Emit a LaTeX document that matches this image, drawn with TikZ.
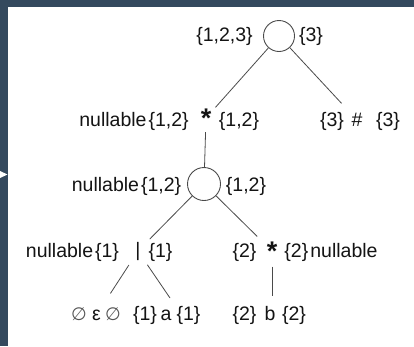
\documentclass[tikz,border=0pt]{standalone}
\usepackage{fontspec}
\setmainfont{Liberation Sans}
\newfontfamily\symfont{DejaVu Sans}
\definecolor{frame}{HTML}{34495E}
\definecolor{ink}{HTML}{141414}
\definecolor{linec}{HTML}{4A4A4A}
\definecolor{nullc}{HTML}{555555}
\begin{document}
\begin{tikzpicture}[x=1pt,y=-1pt,
  lbl/.style={anchor=base, inner sep=0pt, text=ink, font=\fontsize{19.5}{23}\selectfont},
  opnode/.style={circle, inner sep=0pt, text=ink, font=\fontsize{19.5}{23}\selectfont},
  starop/.style={opnode, font=\fontsize{27}{30}\selectfont\bfseries},
  setnode/.style={circle, draw=linec, line width=0.9pt, minimum size=31pt, inner sep=0pt},
  link/.style={draw=linec, line width=0.8pt},
  nullsym/.style={anchor=base, inner sep=0pt, text=nullc, font=\fontsize{18}{22}\symfont}
]
\useasboundingbox (0,0) rectangle (414,346);
% page frame and side marker
\fill[frame] (0,0) rectangle (414,346);
\fill[white] (8,7) rectangle (414,346);
\fill[white] (0,171) -- (7.5,174.5) -- (0,178) -- cycle;

% root concatenation
\node[setnode] (c1) at (279,36) {};
\node[lbl] (c1l) at (224.5,41) {\{1,2,3\}};
\node[lbl] (c1r) at (311,41) {\{3\}};

% second level
\node[starop, minimum size=28pt] (star1) at (206,118) {*};
\node[lbl] (s1l) at (134,126) {nullable\hspace{2pt}\{1,2\}};
\node[lbl] (s1r) at (239,126) {\{1,2\}};
\node[opnode, minimum size=45pt] (hash) at (357,120) {\#};
\node[lbl] (hl) at (332,126) {\{3\}};
\node[lbl] (hr) at (388,126) {\{3\}};

% inner concatenation
\node[setnode, minimum size=33pt] (c2) at (204,184) {};
\node[lbl] (c2l) at (126.5,191) {nullable\hspace{2pt}\{1,2\}};
\node[lbl] (c2r) at (246,191) {\{1,2\}};

% alternation and second star
\node[opnode, minimum size=33pt] (bar) at (138,251) {|};
\node[lbl] (barl) at (72.5,257) {nullable\hspace{2pt}\{1\}};
\node[lbl] (barr) at (160.5,257) {\{1\}};
\node[starop, minimum size=41pt] (star2) at (272,251) {*};
\node[lbl] (s2l) at (244.5,257) {\{2\}};
\node[lbl] (s2r) at (331,257) {\{2\}\hspace{2pt}nullable};

% leaves
\node[nullsym] (n1) at (79,320) {∅};
\node[lbl] (eps) at (96.5,320) {ε};
\node[nullsym] (n2) at (113,320) {∅};
\node[lbl] (la) at (145,320) {\{1\}};
\node[lbl] (a) at (166,320) {a};
\node[lbl] (ra) at (188.5,320) {\{1\}};
\node[lbl] (lb) at (244.5,320) {\{2\}};
\node[lbl] (b) at (270,320) {b};
\node[lbl] (rb) at (294,320) {\{2\}};
\coordinate (aTop) at (170,298);

% tree edges
\draw[link] (c1) -- (star1);
\draw[link] (c1) -- (hash);
\draw[link] (star1) -- (c2);
\draw[link] (c2) -- (bar);
\draw[link] (c2) -- (star2);
\draw[link, shorten >=19pt] (bar) -- (eps);
\draw[link] (bar) -- (aTop);
\draw[link, shorten <=-5pt, shorten >=10pt] (star2.south) -- (star2.south |- b.north);
\end{tikzpicture}
\end{document}
